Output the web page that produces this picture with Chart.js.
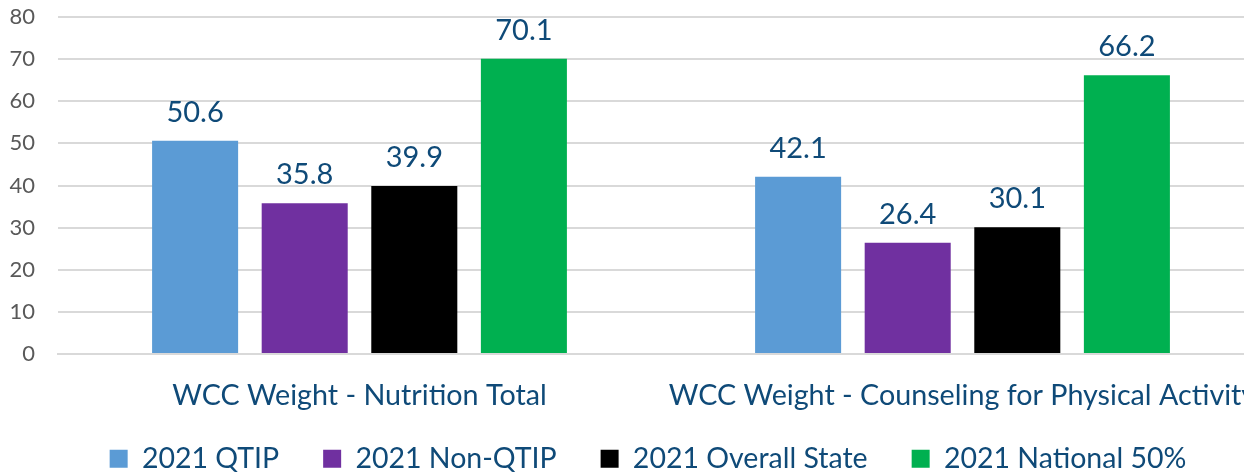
<!DOCTYPE html>
<html>
<head>
<meta charset="utf-8">
<script src="https://cdn.jsdelivr.net/npm/chart.js@4"></script>
<style>
  body { margin: 0; background: #fff; }
  #wrap { width: 1244px; height: 472px; overflow: hidden; }
</style>
</head>
<body>
<div id="wrap"><canvas id="chart" width="1264" height="472"></canvas></div>
<script>
const categories = ['WCC Weight - Nutrition Total', 'WCC Weight - Counseling for Physical Activity'];
const seriesNames = ['2021 QTIP', '2021 Non-QTIP', '2021 Overall State', '2021 National 50%'];
const qtip = [50.6, 42.1];
const nonQtip = [35.8, 26.4];
const overallState = [39.9, 30.1];
const national = [70.1, 66.2];
const yTicks = [0, 10, 20, 30, 40, 50, 60, 70, 80];

const colors = ['#5B9BD5', '#7030A0', '#000000', '#00B050'];
const textBlue = '#0F4A78';
const FONT = 'Lato';

// draw the values above each bar
const barValues = {
    id: 'barValues',
    afterDatasetsDraw(chart) {
        const ctx = chart.ctx;
        ctx.save();
        ctx.font = '29px ' + FONT;
        ctx.fillStyle = textBlue;
        ctx.textAlign = 'center';
        ctx.textBaseline = 'alphabetic';
        chart.data.datasets.forEach((ds, i) => {
            chart.getDatasetMeta(i).data.forEach((bar, j) => {
                ctx.fillText(ds.data[j].toFixed(1), bar.x, bar.y - 19);
            });
        });
        ctx.restore();
    }
};

// pull the legend up closer to the category labels, a bit to the right
const legendMove = {
    id: 'legendMove',
    afterLayout(chart) {
        const lg = chart.legend;
        lg.top -= 28;
        lg.bottom -= 28;
        lg.left += 16;
        lg.right += 16;
    }
};

new Chart(document.getElementById('chart'), {
    type: 'bar',
    data: {
        labels: categories,
        datasets: [
            { label: seriesNames[0], data: qtip, backgroundColor: colors[0] },
            { label: seriesNames[1], data: nonQtip, backgroundColor: colors[1] },
            { label: seriesNames[2], data: overallState, backgroundColor: colors[2] },
            { label: seriesNames[3], data: national, backgroundColor: colors[3] }
        ]
    },
    options: {
        responsive: false,
        animation: false,
        layout: { padding: { top: 17, right: 0, left: 0, bottom: -39 } },
        categoryPercentage: 0.727,
        barPercentage: 0.785,
        scales: {
            x: {
                grid: { display: false },
                border: { color: '#D9D9D9', width: 2 },
                afterFit: s => { s.paddingLeft = 0; s.paddingRight = 0; },
                ticks: { color: textBlue, font: { family: FONT, size: 28.7 }, padding: 16, maxRotation: 0, autoSkip: false }
            },
            y: {
                min: 0,
                max: 80,
                afterBuildTicks: s => { s.ticks = yTicks.map(v => ({ value: v })); },
                afterFit: s => { s.width = 58; s.paddingTop = 0; s.paddingBottom = 0; },
                grid: { color: '#D9D9D9', lineWidth: 2, drawTicks: false },
                border: { display: false },
                ticks: { color: '#595959', font: { family: FONT, size: 22 }, padding: 23 }
            }
        },
        plugins: {
            legend: {
                position: 'bottom',
                labels: {
                    color: textBlue,
                    font: { family: FONT, size: 28.5 },
                    boxWidth: 18,
                    boxHeight: 18,
                    padding: 44
                }
            },
            tooltip: { enabled: false }
        }
    },
    plugins: [barValues, legendMove]
});
</script>
</body>
</html>
